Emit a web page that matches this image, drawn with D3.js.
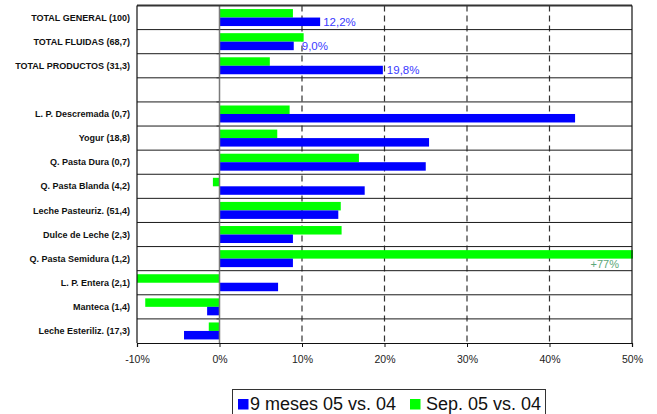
<!DOCTYPE html>
<html>
<head>
<meta charset="utf-8">
<script src="https://cdn.jsdelivr.net/npm/d3@7"></script>
<style>
  html, body { margin: 0; padding: 0; background: #fff; }
  svg { display: block; font-family: "Liberation Sans", Arial, sans-serif; }
</style>
</head>
<body>
<svg id="chart" width="657" height="414"></svg>
<script>
const categories = [
  "TOTAL GENERAL (100)", "TOTAL FLUIDAS (68,7)", "TOTAL PRODUCTOS (31,3)", "",
  "L. P. Descremada (0,7)", "Yogur (18,8)", "Q. Pasta Dura (0,7)", "Q. Pasta Blanda (4,2)",
  "Leche Pasteuriz. (51,4)", "Dulce de Leche (2,3)", "Q. Pasta Semidura (1,2)",
  "L. P. Entera (2,1)", "Manteca (1,4)", "Leche Esteriliz. (17,3)"
];
const nineMonths = [12.2, 9.0, 19.8, null, 43.1, 25.4, 25.0, 17.6, 14.4, 8.9, 8.9, 7.1, -1.5, -4.3];
const september  = [8.9, 10.2, 6.1, null, 8.5, 7.0, 16.9, -0.8, 14.7, 14.8, 77, -10.3, -9.0, -1.3];
const seriesNames = ["9 meses 05 vs. 04", "Sep. 05 vs. 04"];
const xTicks = [-10, 0, 10, 20, 30, 40, 50];
const nineLabels = ["12,2%", "9,0%", "19,8%"];
const septLabelText = "+77%";

(function () {
const svg = d3.select("#chart");
const pL = 137, pR = 632, pT = 5.5, pB = 343;

const x = d3.scaleLinear().domain([-10, 50]).range([pL, pR]);
const y = d3.scaleBand().domain(d3.range(categories.length)).range([pT, pB]).padding(0);
const ySub = d3.scaleBand().domain(["sep", "nine"]).range([0, y.bandwidth()]).paddingInner(0).paddingOuter(0.42);

const colors = { nine: "#0000ff", sep: "#00ff00" };

svg.append("defs").append("clipPath").attr("id", "plotclip")
  .append("rect").attr("x", pL).attr("y", pT).attr("width", pR - pL + 1).attr("height", pB - pT);

// dashed vertical gridlines
svg.append("g").selectAll("line")
  .data(xTicks.filter(t => t > 0 && t < 50))
  .join("line")
  .attr("x1", d => x(d)).attr("x2", d => x(d))
  .attr("y1", pT).attr("y2", pB)
  .attr("stroke", "#333").attr("stroke-width", 1.2)
  .attr("stroke-dasharray", "6,4");

// row separators
svg.append("g").selectAll("line")
  .data(d3.range(1, categories.length))
  .join("line")
  .attr("x1", pL).attr("x2", pR)
  .attr("y1", d => y(d)).attr("y2", d => y(d))
  .attr("stroke", "#1a1a1a").attr("stroke-width", 1);

// bars
const bars = svg.append("g").attr("clip-path", "url(#plotclip)");
const rows = categories.map((c, i) => ({ i, nine: nineMonths[i], sep: september[i] }));
["sep", "nine"].forEach(key => {
  bars.selectAll("rect." + key)
    .data(rows.filter(r => r[key] !== null))
    .join("rect")
    .attr("class", key)
    .attr("x", d => x(Math.min(0, d[key])))
    .attr("width", d => Math.abs(x(d[key]) - x(0)))
    .attr("y", d => y(d.i) + ySub(key))
    .attr("height", ySub.bandwidth())
    .attr("fill", colors[key]);
});

// zero line
svg.append("line")
  .attr("x1", x(0)).attr("x2", x(0)).attr("y1", pT).attr("y2", pB)
  .attr("stroke", "#7a7a7a").attr("stroke-width", 1.5);
svg.append("g").selectAll("line")
  .data(d3.range(1, categories.length))
  .join("line")
  .attr("x1", x(0) - 3).attr("x2", x(0))
  .attr("y1", d => y(d)).attr("y2", d => y(d))
  .attr("stroke", "#333");

// frame
svg.append("line").attr("x1", pL).attr("x2", pR).attr("y1", pT).attr("y2", pT)
  .attr("stroke", "#333").attr("stroke-width", 2);
svg.append("line").attr("x1", pR).attr("x2", pR).attr("y1", pT).attr("y2", pB)
  .attr("stroke", "#111").attr("stroke-width", 1.2);
svg.append("line").attr("x1", pL).attr("x2", pL).attr("y1", pT).attr("y2", pB)
  .attr("stroke", "#111").attr("stroke-width", 1.2);

// x axis
const xAxis = d3.axisBottom(x).tickValues(xTicks).tickFormat(d => d + "%").tickSize(4).tickPadding(9);
const gx = svg.append("g").attr("transform", `translate(0,${pB})`).call(xAxis);
gx.select(".domain").attr("stroke", "#111").attr("stroke-width", 1.2);
gx.selectAll(".tick line").attr("stroke", "#111");
gx.selectAll("text").attr("font-size", "10.5px").attr("fill", "#222")
  .attr("font-family", "'Liberation Sans', Arial, sans-serif");

// category labels
svg.append("g").selectAll("text")
  .data(categories.map((c, i) => ({ c, i })))
  .join("text")
  .attr("x", 130)
  .attr("y", d => y(d.i) + y.bandwidth() / 2)
  .attr("dy", "0.35em")
  .attr("text-anchor", "end")
  .attr("font-size", "9px").attr("font-weight", "bold").attr("fill", "#111")
  .text(d => d.c);

// data labels
const labelOffsets = [3, 8, 4];
svg.append("g").selectAll("text")
  .data(nineLabels.map((t, i) => ({ t, i })))
  .join("text")
  .attr("x", d => x(nineMonths[d.i]) + labelOffsets[d.i])
  .attr("y", d => y(d.i) + ySub("nine") + ySub.bandwidth() / 2)
  .attr("dy", "0.36em")
  .attr("font-size", "11.5px").attr("fill", "#3a3aff")
  .text(d => d.t);

const semi = september.indexOf(77);
svg.append("text")
  .attr("x", pR - 13)
  .attr("y", y(semi) + ySub("nine") + ySub.bandwidth() / 2 + 1)
  .attr("dy", "0.36em")
  .attr("text-anchor", "end")
  .attr("font-size", "11px").attr("fill", "#5aa878")
  .text(septLabelText);

// legend
const lg = svg.append("g");
lg.append("rect").attr("x", 232.5).attr("y", 389.5).attr("width", 313).attr("height", 32)
  .attr("fill", "#fff").attr("stroke", "#333").attr("stroke-width", 1);
const legendItems = [
  { name: seriesNames[0], color: colors.nine, sx: 238, tx: 250 },
  { name: seriesNames[1], color: colors.sep, sx: 410, tx: 426 }
];
legendItems.forEach(it => {
  lg.append("rect").attr("x", it.sx).attr("y", 399).attr("width", 10.5).attr("height", 10.5).attr("fill", it.color);
  lg.append("text").attr("x", it.tx).attr("y", 409.5)
    .attr("font-size", "18px").attr("fill", "#111").text(it.name);
});
})();
</script>
</body>
</html>
